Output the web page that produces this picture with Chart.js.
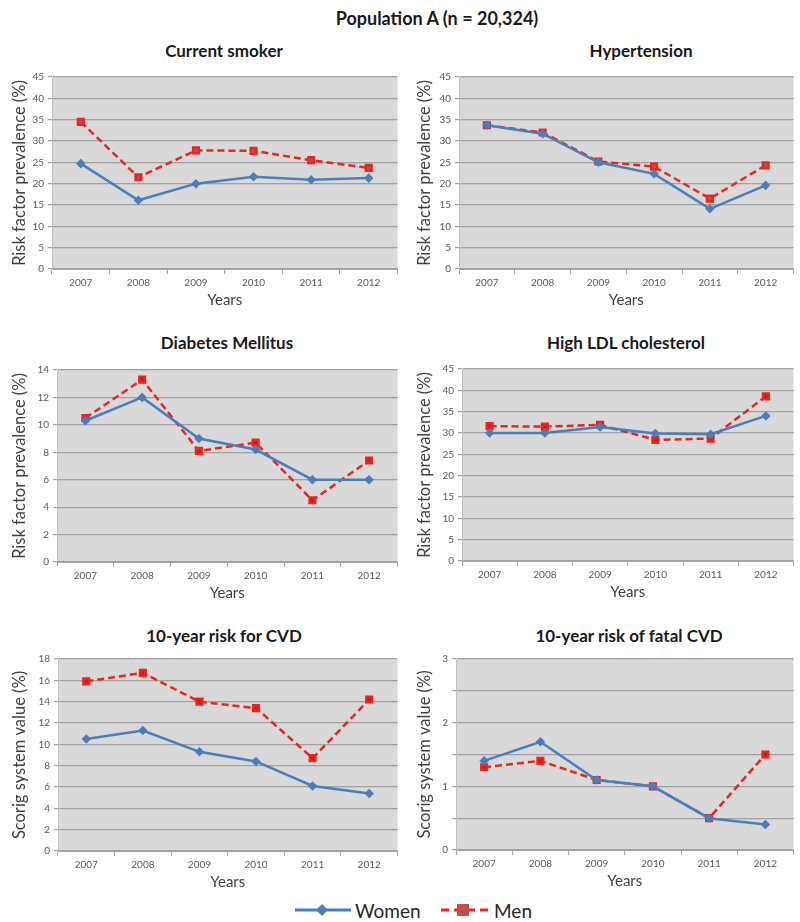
<!DOCTYPE html>
<html>
<head>
<meta charset="utf-8">
<script src="https://cdn.jsdelivr.net/npm/chart.js@4"></script>
<style>
  body { margin: 0; background: #fff; font-family: Lato, "Open Sans", sans-serif; }
  #page { position: relative; width: 800px; height: 922px; overflow: hidden; }
  .title { position: absolute; font-weight: bold; color: #1a1a1a; transform: translate(-50%, -50%); white-space: nowrap; }
  .panel { position: absolute; }
  .legend { position: absolute; top: 898px; height: 24px; display: flex; align-items: center; font-size: 19px; color: #262626; }
</style>
</head>
<body>
<div id="page">
  <div class="title" style="left:437px; top:18px; font-size:18px;">Population A (n = 20,324)</div>
  <div id="panels"></div>
  <div class="legend" style="left:294px;">
    <svg width="58" height="20"><line x1="1" y1="10" x2="57" y2="10" stroke="#4a7ebb" stroke-width="3"/><polygon points="28,4 34,10 28,16 22,10" fill="#4a7ebb"/></svg>
    <span style="margin-left:3px;">Women</span>
  </div>
  <div class="legend" style="left:440px;">
    <svg width="52" height="20"><line x1="1" y1="10" x2="51" y2="10" stroke="#e8251f" stroke-width="3" stroke-dasharray="8,5"/><rect x="17" y="4" width="12" height="12" fill="#c0504d"/></svg>
    <span style="margin-left:2px;">Men</span>
  </div>
</div>
<script>
const years = ["2007", "2008", "2009", "2010", "2011", "2012"];

const smokerWomen = [24.7, 16.1, 20.0, 21.6, 20.9, 21.3];
const smokerMen = [34.5, 21.5, 27.8, 27.7, 25.5, 23.7];

const hypertensionWomen = [33.7, 31.7, 25.0, 22.3, 14.1, 19.6];
const hypertensionMen = [33.7, 32.0, 25.2, 24.0, 16.5, 24.3];

const diabetesWomen = [10.3, 12.0, 9.0, 8.2, 6.0, 6.0];
const diabetesMen = [10.5, 13.3, 8.1, 8.7, 4.5, 7.4];

const ldlWomen = [30.0, 30.0, 31.4, 29.9, 29.7, 34.0];
const ldlMen = [31.6, 31.5, 31.9, 28.4, 28.7, 38.6];

const cvdWomen = [10.5, 11.3, 9.3, 8.4, 6.1, 5.4];
const cvdMen = [15.9, 16.7, 14.0, 13.4, 8.7, 14.2];

const fatalWomen = [1.4, 1.7, 1.1, 1.0, 0.5, 0.4];
const fatalMen = [1.3, 1.4, 1.1, 1.0, 0.5, 1.5];

const prevalenceLabel = "Risk factor prevalence (%)";
const scoreLabel = "Scorig system value (%)";

// layout of each panel: column left, plot area box, title position
const panels = [
  { title: "Current smoker", women: smokerWomen, men: smokerMen, max: 45, step: 5, yTitle: prevalenceLabel,
    col: 0, area: [52, 75, 402, 269], titleAt: [224, 50], menMarker: "#c0504d" },
  { title: "Hypertension", women: hypertensionWomen, men: hypertensionMen, max: 45, step: 5, yTitle: prevalenceLabel,
    col: 405, area: [459, 75, 798, 269], titleAt: [641, 50], menMarker: "#c0504d" },
  { title: "Diabetes Mellitus", women: diabetesWomen, men: diabetesMen, max: 14, step: 2, yTitle: prevalenceLabel,
    col: 0, area: [57, 368, 402, 562], titleAt: [227, 342], menMarker: "#e3120b" },
  { title: "High LDL cholesterol", women: ldlWomen, men: ldlMen, max: 45, step: 5, yTitle: prevalenceLabel,
    col: 405, area: [462, 367, 798, 561], titleAt: [626, 342], menMarker: "#e3120b" },
  { title: "10-year risk for CVD", women: cvdWomen, men: cvdMen, max: 18, step: 2, yTitle: scoreLabel,
    col: 0, area: [58, 657, 402, 851], titleAt: [224, 635], menMarker: "#e3120b" },
  { title: "10-year risk of fatal CVD", women: fatalWomen, men: fatalMen, max: 3, step: 0.5, yTitle: scoreLabel,
    col: 405, area: [456, 657, 798, 850], titleAt: [629, 635], menMarker: "#e3120b", integerLabels: true }
];

const plotBackground = {
  id: "plotBackground",
  beforeDraw(chart) {
    const { ctx, chartArea: a } = chart;
    ctx.save();
    ctx.fillStyle = "#d9d9d9";
    ctx.fillRect(a.left, a.top, a.right - a.left, a.bottom - a.top);
    ctx.restore();
  }
};

const padTop = 8, padRight = 2, xAxisHeight = 44;
const holder = document.getElementById("panels");

panels.forEach(p => {
  const [l, t, r, b] = p.area;
  const yWidth = l - p.col;
  const width = r - p.col + padRight;
  const height = (b - t) + padTop + xAxisHeight;

  const title = document.createElement("div");
  title.className = "title";
  title.style.left = p.titleAt[0] + "px";
  title.style.top = p.titleAt[1] + "px";
  title.style.fontSize = "17px";
  title.textContent = p.title;
  holder.appendChild(title);

  const box = document.createElement("div");
  box.className = "panel";
  box.style.left = p.col + "px";
  box.style.top = (t - padTop) + "px";
  box.style.width = width + "px";
  box.style.height = height + "px";
  const canvas = document.createElement("canvas");
  box.appendChild(canvas);
  holder.appendChild(box);

  new Chart(canvas, {
    type: "line",
    data: {
      labels: years,
      datasets: [
        {
          label: "Women",
          data: p.women,
          borderColor: "#4a7ebb",
          backgroundColor: "#4a7ebb",
          borderWidth: 2.5,
          pointStyle: "rectRot",
          pointRadius: 3,
          tension: 0
        },
        {
          label: "Men",
          data: p.men,
          borderColor: "#e8251f",
          backgroundColor: p.menMarker,
          borderWidth: 2.5,
          borderDash: [7, 4],
          pointStyle: "rect",
          pointRadius: 4,
          tension: 0
        }
      ]
    },
    options: {
      responsive: true,
      maintainAspectRatio: false,
      animation: false,
      layout: { padding: { top: padTop, right: padRight, left: 0, bottom: 0 } },
      plugins: { legend: { display: false }, tooltip: { enabled: false } },
      scales: {
        x: {
          offset: true,
          grid: { offset: true, drawOnChartArea: false, drawTicks: true, tickLength: 5, color: "#a6a6a6" },
          border: { color: "#a6a6a6" },
          ticks: { color: "#595959", font: { size: 10, family: "Lato" }, padding: 3, maxRotation: 0 },
          title: { display: true, text: "Years", color: "#404040", font: { size: 15, family: "Lato" }, padding: { top: 0 } },
          afterFit(scale) { scale.height = xAxisHeight; }
        },
        y: {
          min: 0,
          max: p.max,
          grid: { color: "#a0a0a0", lineWidth: 1.2, tickLength: 4 },
          border: { color: "#bfbfbf" },
          ticks: {
            stepSize: p.step,
            color: "#595959",
            font: { size: 10, family: "Lato" },
            padding: 4,
            callback: v => (p.integerLabels && v % 1 !== 0) ? "" : v
          },
          title: { display: true, text: p.yTitle, color: "#404040", font: { size: 16.5, family: "Lato" }, padding: { top: 10, bottom: 4 } },
          afterFit(scale) { scale.width = yWidth; }
        }
      }
    },
    plugins: [plotBackground]
  });
});
</script>
</body>
</html>
